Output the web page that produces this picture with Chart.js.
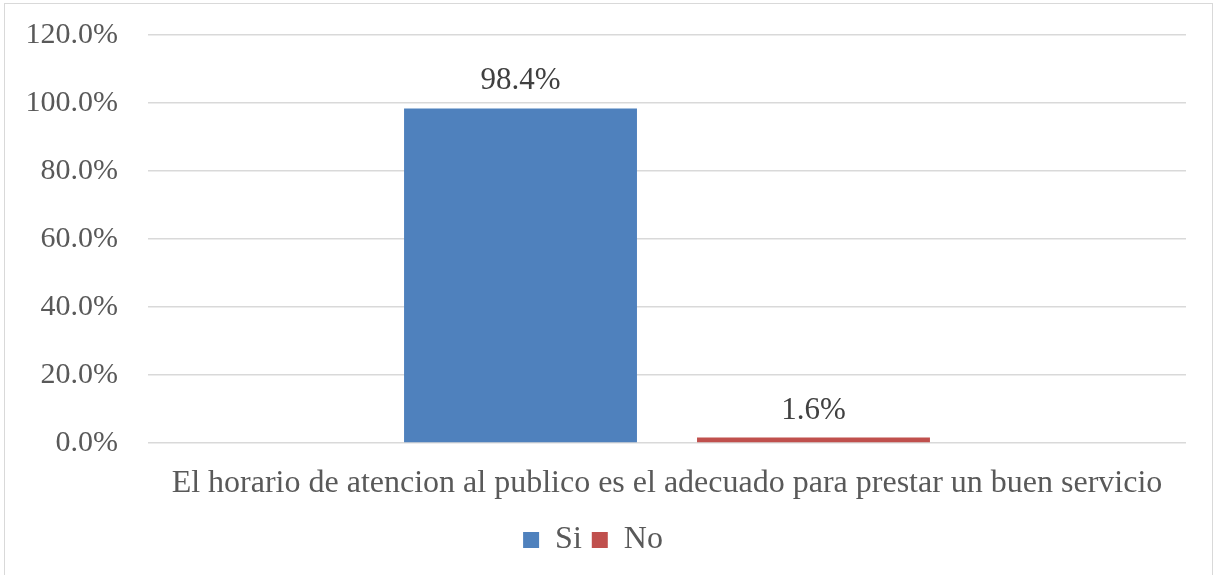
<!DOCTYPE html>
<html>
<head>
<meta charset="utf-8">
<script src="https://cdn.jsdelivr.net/npm/chart.js@4"></script>
<style>
  html, body { margin: 0; padding: 0; background: #fff; }
  #frame {
    position: absolute; left: 4px; top: 3px;
    width: 1207px; height: 620px;
    border: 1px solid #d9d9d9;
  }
  #wrap { position: absolute; left: 0; top: 0; width: 1216px; height: 575px; }
</style>
</head>
<body>
<div id="frame"></div>
<div id="wrap"><canvas id="horarioChart" width="1216" height="575"></canvas></div>
<script>
// Survey result: is the public opening schedule adequate?
const categories = ['El horario de atencion al publico es el adecuado para prestar un buen servicio'];
const siValues = [98.4];
const noValues = [1.6];
const yTicks = [0, 20, 40, 60, 80, 100, 120];

const serif = "'Liberation Serif', 'Times New Roman', serif";
const fontSize = 32;
const pct = v => v.toFixed(1) + '%';

// Value labels above each bar
const valueLabels = {
  id: 'valueLabels',
  afterDatasetsDraw(chart) {
    const ctx = chart.ctx;
    ctx.save();
    ctx.font = '31px ' + serif;
    ctx.fillStyle = '#404040';
    ctx.textAlign = 'center';
    ctx.textBaseline = 'alphabetic';
    chart.data.datasets.forEach((ds, i) => {
      chart.getDatasetMeta(i).data.forEach((bar, j) => {
        ctx.fillText(pct(ds.data[j]), bar.x, bar.y - 19);
      });
    });
    ctx.restore();
  }
};

const ctx = document.getElementById('horarioChart').getContext('2d');
new Chart(ctx, {
  type: 'bar',
  data: {
    labels: categories,
    datasets: [
      { label: 'Si', data: siValues, backgroundColor: '#4f81bd' },
      { label: 'No', data: noValues, backgroundColor: '#c0504d' }
    ]
  },
  options: {
    responsive: false,
    animation: false,
    categoryPercentage: 0.5645,
    barPercentage: 0.795,
    layout: { padding: { top: 35, right: 30, left: 0, bottom: 9 } },
    plugins: {
      tooltip: { enabled: false },
      legend: {
        position: 'bottom',
        labels: {
          color: '#595959',
          font: { family: serif, size: fontSize },
          boxWidth: 16,
          boxHeight: 16,
          padding: 10
        }
      }
    },
    scales: {
      x: {
        grid: { display: false, drawTicks: false },
        border: { display: false },
        ticks: { color: '#595959', font: { family: serif, size: fontSize }, padding: 21 },
        afterFit: s => { s.height = 71; }
      },
      y: {
        min: 0,
        max: 120,
        afterBuildTicks: s => { s.ticks = yTicks.map(v => ({ value: v })); },
        grid: { color: '#d9d9d9', lineWidth: 1.5, drawTicks: false },
        border: { display: false },
        ticks: { color: '#595959', font: { family: serif, size: 30 }, padding: 30, callback: v => pct(v) },
        afterFit: s => { s.width = 148; s.paddingTop = 0; s.paddingBottom = 0; }
      }
    }
  },
  plugins: [valueLabels]
});
</script>
</body>
</html>
